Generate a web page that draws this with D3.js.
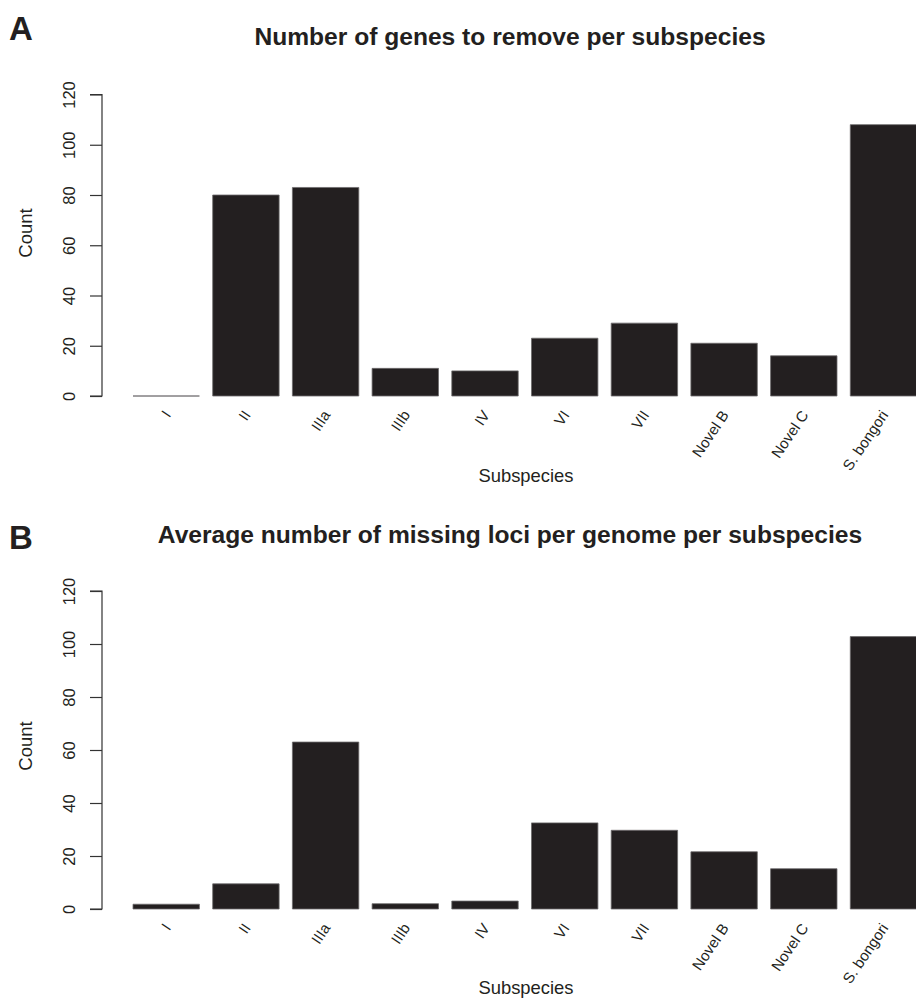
<!DOCTYPE html>
<html>
<head>
<meta charset="utf-8">
<script src="https://cdn.jsdelivr.net/npm/d3@7"></script>
<style>
  html, body { margin: 0; padding: 0; background: #fff; }
  svg { display: block; font-family: "Liberation Sans", Arial, Helvetica, sans-serif; }
</style>
</head>
<body>
<svg id="chart" width="916" height="998"></svg>
<script>
const categories = ["I", "II", "IIIa", "IIIb", "IV", "VI", "VII", "Novel B", "Novel C", "S. bongori"];
const genesToRemove = [0, 80, 83, 11, 10, 23, 29, 21, 16, 108];
const missingLoci = [1.8, 9.5, 63, 2.0, 3.0, 32.5, 29.7, 21.6, 15.2, 102.8];
const yTicks = [0, 20, 40, 60, 80, 100, 120];
const panelLetters = ["A", "B"];
const panelTitles = ["Number of genes to remove per subspecies",
                     "Average number of missing loci per genome per subspecies"];
const xLabel = "Subspecies";
const yLabel = "Count";

const ink = "#231f20";
const svg = d3.select("#chart");

const x = d3.scaleBand().domain(categories).range([133, 916.7]).paddingInner(1/6).paddingOuter(0);

const panels = [
  { letter: panelLetters[0], title: panelTitles[0], values: genesToRemove,
    y0: 396, y1: 94.5, letterY: 40, titleY: 45, countY: 233, labelY: 412, xlabY: 482 },
  { letter: panelLetters[1], title: panelTitles[1], values: missingLoci,
    y0: 909, y1: 591, letterY: 549, titleY: 543, countY: 746, labelY: 925, xlabY: 994 }
];

panels.forEach(p => {
  const g = svg.append("g");
  const y = d3.scaleLinear().domain([0, 120]).range([p.y0, p.y1]);

  g.append("text").attr("x", 9).attr("y", p.letterY)
    .attr("font-size", 33).attr("font-weight", "bold").attr("fill", ink).text(p.letter);

  g.append("text").attr("x", 510).attr("y", p.titleY).attr("text-anchor", "middle")
    .attr("font-size", 24.6).attr("font-weight", "bold").attr("fill", ink).text(p.title);

  g.selectAll("path.bar").data(p.values).join("path")
    .attr("class", "bar")
    .attr("d", (v, i) => {
      const x0 = x(categories[i]), x1 = x0 + x.bandwidth();
      return `M${x0},${y(0)}H${x1}V${y(v)}H${x0}Z`;
    })
    .attr("fill", ink)
    .attr("stroke", "#6d6b6c")
    .attr("stroke-width", 0.8);

  const axis = d3.axisLeft(y).tickValues(yTicks).tickSize(12).tickFormat(d3.format("d"));
  const ag = g.append("g").attr("transform", "translate(102,0)").call(axis);
  ag.select(".domain").attr("d", `M-12,${y(0)}H0V${y(120)}H-12`).attr("stroke", "#333").attr("stroke-width", 1.2);
  ag.selectAll(".tick line").attr("stroke", "#333").attr("stroke-width", 1.2);
  ag.selectAll(".tick text")
    .attr("x", null).attr("dy", null)
    .attr("transform", "translate(-27,0) rotate(-90)")
    .attr("text-anchor", "middle")
    .attr("font-size", 16.5).attr("fill", ink)
    .attr("font-family", "'Liberation Sans', Arial, sans-serif");

  g.append("text").attr("transform", `translate(31.5,${p.countY}) rotate(-90)`)
    .attr("text-anchor", "middle").attr("font-size", 18.5).attr("fill", ink).text(yLabel);

  g.selectAll("text.xl").data(categories).join("text")
    .attr("class", "xl")
    .attr("transform", d => `translate(${x(d) + x.bandwidth() / 2 + 1},${p.labelY}) rotate(-56)`)
    .attr("text-anchor", "end").attr("dy", "0.35em")
    .attr("font-size", 15).attr("fill", ink).text(d => d);

  g.append("text").attr("x", 526).attr("y", p.xlabY).attr("text-anchor", "middle")
    .attr("font-size", 18.4).attr("fill", ink).text(xLabel);
});
</script>
</body>
</html>
